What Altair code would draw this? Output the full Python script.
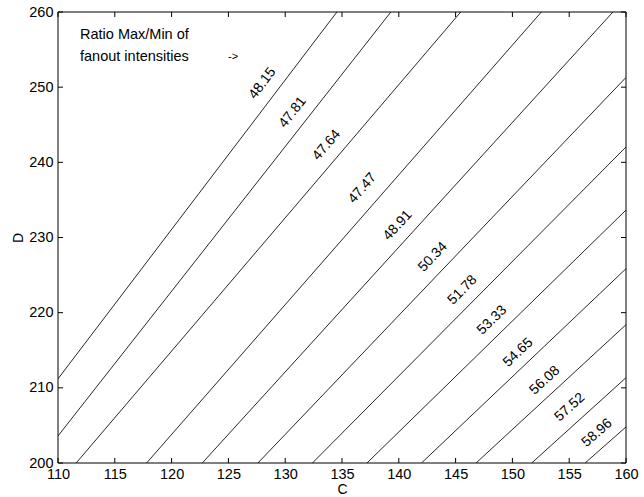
import math
import altair as alt
import pandas as pd

# ---- data ----
levels = ["48.15", "47.81", "47.64", "47.47", "48.91", "50.34",
          "51.78", "53.33", "54.65", "56.08", "57.52", "58.96"]
c_start = [110.0, 110.0, 111.6, 117.8, 122.7, 127.6, 132.4, 137.2, 142.0, 146.8, 151.7, 156.4]
d_start = [211.2, 203.6, 200.0, 200.0, 200.0, 200.0, 200.0, 200.0, 200.0, 200.0, 200.0, 200.0]
c_end = [134.55, 139.3, 145.45, 152.55, 158.85, 160.0, 160.0, 160.0, 160.0, 160.0, 160.0, 160.0]
d_end = [260.0, 260.0, 260.0, 260.0, 260.0, 251.3, 242.05, 233.65, 225.85, 218.4, 211.35, 204.8]

label_c = [128.0, 130.65, 133.65, 136.8, 139.9, 143.0, 145.6, 148.2, 150.5, 152.85, 155.05, 157.45]
label_d = [250.5, 246.65, 242.3, 236.55, 231.6, 227.4, 223.0, 219.0, 214.7, 211.0, 207.4, 204.0]

x_ticks = [110, 115, 120, 125, 130, 135, 140, 145, 150, 155, 160]
y_ticks = [200, 210, 220, 230, 240, 250, 260]

note_lines = ["Ratio Max/Min of", "fanout intensities"]
note_arrow = "->"

# ---- layout ----
W, H = 568, 451
FONT = "Liberation Sans"
XD = [110, 160]
YD = [200, 260]

rows = []
for i, lv in enumerate(levels):
    rows.append({"level": lv, "C": c_start[i], "D": d_start[i], "k": 0})
    rows.append({"level": lv, "C": c_end[i], "D": d_end[i], "k": 1})
lines_df = pd.DataFrame(rows)

angles = []
for i in range(len(levels)):
    dx = (c_end[i] - c_start[i]) * W / (XD[1] - XD[0])
    dy = (d_end[i] - d_start[i]) * H / (YD[1] - YD[0])
    angles.append(360 - math.degrees(math.atan2(dy, dx)))
labels_df = pd.DataFrame({"level": levels, "C": label_c, "D": label_d, "ang": angles})

xs = alt.Scale(domain=XD, nice=False, zero=False)
ys = alt.Scale(domain=YD, nice=False, zero=False)

xaxis = alt.Axis(values=x_ticks, title="C", ticks=False, domain=False, grid=False,
                 labelFlush=False, labelOverlap=False, labelPadding=4,
                 labelFontSize=14.5, labelFont=FONT, labelColor="black",
                 titleFontSize=14, titleFont=FONT, titleFontWeight="normal",
                 titleColor="black", titleY=26, titleBaseline="middle")
yaxis = alt.Axis(values=y_ticks, title="D", ticks=False, domain=False, grid=False,
                 labelFlush=False, labelOverlap=False, labelPadding=5,
                 labelFontSize=14.5, labelFont=FONT, labelColor="black",
                 titleFontSize=14, titleFont=FONT, titleFontWeight="normal",
                 titleColor="black", titleX=-40, titleBaseline="middle", titleAngle=270)

X = lambda f: alt.X(f, scale=xs, axis=xaxis)
Y = lambda f: alt.Y(f, scale=ys, axis=yaxis)

lines = alt.Chart(lines_df).mark_line(color="black", strokeWidth=0.85, clip=True).encode(
    x=X("C:Q"), y=Y("D:Q"), detail="level:N", order="k:Q",
)

labels = alt.Chart(labels_df).mark_text(fontSize=14, font=FONT, color="black",
                                         align="center", baseline="middle").encode(
    x=X("C:Q"), y=Y("D:Q"), text="level:N",
    angle=alt.Angle("ang:Q", scale=None),
)

xt_df = pd.DataFrame({"C": x_ticks})
yt_df = pd.DataFrame({"D": y_ticks})
tb = alt.Chart(xt_df).mark_rule(color="black", strokeWidth=1).encode(
    x=X("C:Q"), y=alt.value(H), y2=alt.value(H - 5))
tt = alt.Chart(xt_df).mark_rule(color="black", strokeWidth=1).encode(
    x=X("C:Q"), y=alt.value(0), y2=alt.value(5))
tl = alt.Chart(yt_df).mark_rule(color="black", strokeWidth=1).encode(
    y=Y("D:Q"), x=alt.value(0), x2=alt.value(5))
tr = alt.Chart(yt_df).mark_rule(color="black", strokeWidth=1).encode(
    y=Y("D:Q"), x=alt.value(W), x2=alt.value(W - 5))

# plot frame
one = pd.DataFrame({"z": [0]})
frame = [
    alt.Chart(one).mark_rule(color="black", strokeWidth=1).encode(
        x=alt.value(0), x2=alt.value(W), y=alt.value(0)),
    alt.Chart(one).mark_rule(color="black", strokeWidth=1).encode(
        x=alt.value(0), x2=alt.value(W), y=alt.value(H)),
    alt.Chart(one).mark_rule(color="black", strokeWidth=1).encode(
        x=alt.value(0), y=alt.value(0), y2=alt.value(H)),
    alt.Chart(one).mark_rule(color="black", strokeWidth=1).encode(
        x=alt.value(W), y=alt.value(0), y2=alt.value(H)),
]

n1 = alt.Chart(pd.DataFrame({"t": [note_lines[0]]})).mark_text(
    fontSize=14.5, font=FONT, color="black", align="left", baseline="middle").encode(
    x=alt.value(22), y=alt.value(23), text="t:N")
n2 = alt.Chart(pd.DataFrame({"t": [note_lines[1]]})).mark_text(
    fontSize=14.5, font=FONT, color="black", align="left", baseline="middle").encode(
    x=alt.value(22), y=alt.value(45), text="t:N")
n3 = alt.Chart(pd.DataFrame({"t": [note_arrow]})).mark_text(
    fontSize=11, font=FONT, color="black", align="left", baseline="middle").encode(
    x=alt.value(170), y=alt.value(45), text="t:N")

chart = alt.layer(lines, labels, tb, tt, tl, tr, *frame, n1, n2, n3).properties(
    width=W, height=H,
    autosize=alt.AutoSizeParams(type="none"),
    padding={"left": 58, "top": 12, "right": 18, "bottom": 34},
    background="white",
).configure_view(stroke=None)

chart.save("out.html", embed_options={"renderer": "svg", "actions": False})
